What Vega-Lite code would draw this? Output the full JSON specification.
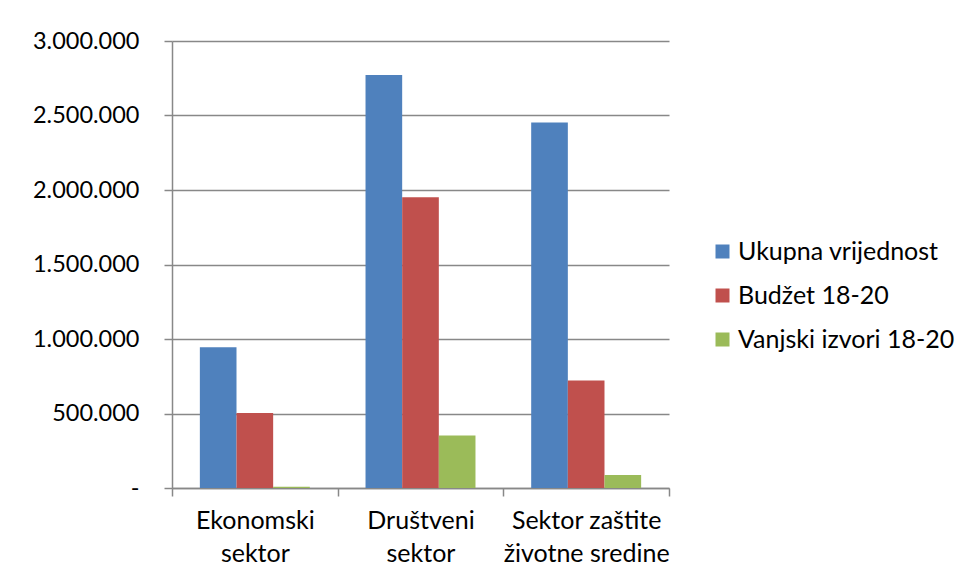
{
  "$schema": "https://vega.github.io/schema/vega-lite/v6.json",
  "width": 497,
  "height": 447,
  "autosize": {"type": "none"},
  "padding": {"left": 172, "top": 41, "right": 289, "bottom": 93},
  "background": "white",
  "config": {
    "locale": {"number": {"decimal": ",", "thousands": ".", "grouping": [3], "currency": ["", ""]}},
    "font": "Lato",
    "view": {"stroke": null}
  },
  "data": {
    "values": [
      {"sektor": "Ekonomski sektor", "serija": "Ukupna vrijednost", "iznos": 944000},
      {"sektor": "Ekonomski sektor", "serija": "Budžet 18-20", "iznos": 503000},
      {"sektor": "Ekonomski sektor", "serija": "Vanjski izvori 18-20", "iznos": 8000},
      {"sektor": "Društveni sektor", "serija": "Ukupna vrijednost", "iznos": 2772000},
      {"sektor": "Društveni sektor", "serija": "Budžet 18-20", "iznos": 1952000},
      {"sektor": "Društveni sektor", "serija": "Vanjski izvori 18-20", "iznos": 353000},
      {"sektor": "Sektor zaštite životne sredine", "serija": "Ukupna vrijednost", "iznos": 2453000},
      {"sektor": "Sektor zaštite životne sredine", "serija": "Budžet 18-20", "iznos": 722000},
      {"sektor": "Sektor zaštite životne sredine", "serija": "Vanjski izvori 18-20", "iznos": 87000}
    ]
  },
  "mark": {"type": "bar"},
  "encoding": {
    "x": {
      "field": "sektor",
      "type": "nominal",
      "sort": null,
      "scale": {"paddingInner": 0, "paddingOuter": 0},
      "axis": {
        "title": null,
        "labelAngle": 0,
        "tickBand": "extent",
        "labelExpr": "datum.value == null ? '' : (datum.value == 'Sektor zaštite životne sredine' ? ['Sektor zaštite', 'životne sredine'] : split(datum.value, ' '))",
        "labelFontSize": 25,
        "labelLineHeight": 33,
        "labelLimit": 300,
        "labelColor": "#000000",
        "labelPadding": 12,
        "labelBaseline": "top",
        "tickSize": 8,
        "tickColor": "#888888",
        "tickWidth": 1.5,
        "domainColor": "#888888",
        "domainWidth": 1.5,
        "grid": false
      }
    },
    "xOffset": {
      "field": "serija",
      "type": "nominal",
      "sort": ["Ukupna vrijednost", "Budžet 18-20", "Vanjski izvori 18-20"],
      "scale": {"paddingInner": 0, "paddingOuter": 0.76}
    },
    "y": {
      "field": "iznos",
      "type": "quantitative",
      "scale": {"domain": [0, 3000000], "nice": false},
      "axis": {
        "title": null,
        "values": [0, 500000, 1000000, 1500000, 2000000, 2500000, 3000000],
        "format": ",d",
        "labelExpr": "datum.value == 0 ? '-' : datum.label",
        "labelFontSize": 23.5,
        "labelColor": "#000000",
        "labelPadding": 25,
        "tickSize": 8,
        "tickColor": "#888888",
        "tickWidth": 1.5,
        "domainColor": "#888888",
        "domainWidth": 1.5,
        "grid": true,
        "gridColor": "#888888",
        "gridWidth": 1.5
      }
    },
    "color": {
      "field": "serija",
      "type": "nominal",
      "sort": ["Ukupna vrijednost", "Budžet 18-20", "Vanjski izvori 18-20"],
      "scale": {
        "domain": ["Ukupna vrijednost", "Budžet 18-20", "Vanjski izvori 18-20"],
        "range": ["#4F81BD", "#C0504D", "#9BBB59"]
      },
      "legend": {
        "title": null,
        "orient": "none",
        "legendX": 538,
        "legendY": 198,
        "symbolType": "square",
        "symbolSize": 196,
        "symbolStrokeWidth": 0,
        "labelFontSize": 25,
        "labelLimit": 300,
        "labelColor": "#000000",
        "labelOffset": 3,
        "rowPadding": 18
      }
    }
  }
}
